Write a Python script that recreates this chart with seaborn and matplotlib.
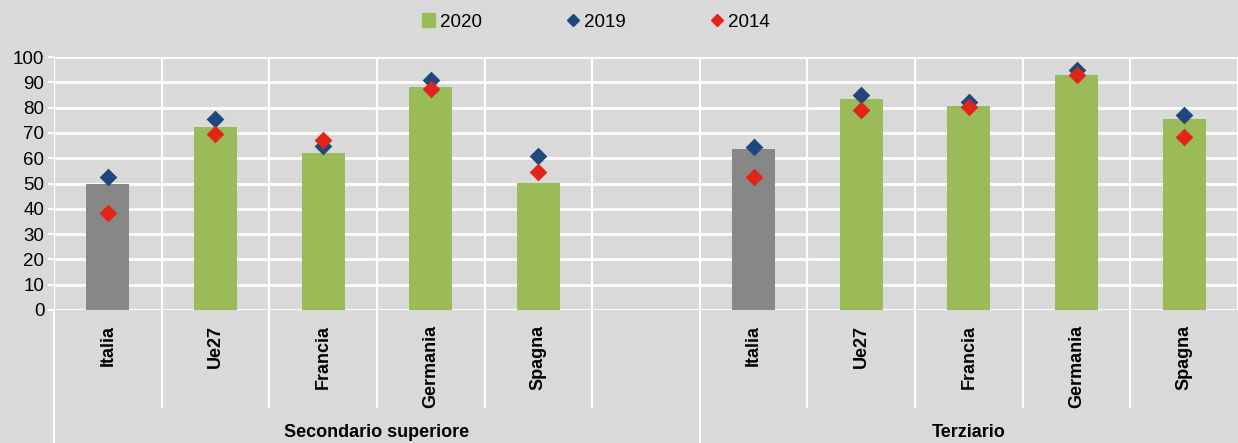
import numpy as np
import pandas as pd
import seaborn as sns
import matplotlib.pyplot as plt
from matplotlib.lines import Line2D
from matplotlib.patches import Patch

gruppi = ["Secondario superiore", "Terziario"]
paesi = ["Italia", "Ue27", "Francia", "Germania", "Spagna"]
# valori (%)
v2020_sec = [50.0, 72.2, 62.2, 88.0, 50.3]
v2019_sec = [52.7, 75.6, 64.8, 90.8, 61.0]
v2014_sec = [38.2, 69.5, 67.0, 87.4, 54.5]
v2020_ter = [63.8, 83.4, 80.8, 92.8, 75.6]
v2019_ter = [64.6, 84.8, 82.1, 94.7, 77.0]
v2014_ter = [52.6, 79.2, 80.2, 92.8, 68.4]

verde = "#9bbb59"
grigio = "#878787"
blu = "#1f497d"
rosso = "#e3241b"
sfondo = "#d9d9d9"

rows = []
for g, a, b, c in [(gruppi[0], v2020_sec, v2019_sec, v2014_sec),
                   (gruppi[1], v2020_ter, v2019_ter, v2014_ter)]:
    for p, x20, x19, x14 in zip(paesi, a, b, c):
        rows.append({"slot": g + "|" + p, "paese": p, "v2020": x20, "v2019": x19, "v2014": x14})
df = pd.DataFrame(rows)
keys1 = [gruppi[0] + "|" + p for p in paesi]
keys2 = [gruppi[1] + "|" + p for p in paesi]
order = keys1 + ["vuoto"] + keys2
pal = {k: (grigio if k.endswith("Italia") else verde) for k in df["slot"]}

plt.rcParams["font.family"] = ["Liberation Sans", "DejaVu Sans"]
fig = plt.figure(figsize=(12.38, 4.43), dpi=100, facecolor=sfondo)
ax = fig.add_axes([54 / 1238, 1 - 310 / 443, 1 - 54 / 1238, 253 / 443])
ax.set_facecolor(sfondo)

sns.barplot(data=df, x="slot", y="v2020", order=order, hue="slot", palette=pal,
            width=0.4, saturation=1, legend=False, ax=ax, zorder=2)
sns.stripplot(data=df, x="slot", y="v2019", order=order, jitter=False, marker="D",
              color=blu, size=9, linewidth=0, ax=ax, zorder=3)
sns.stripplot(data=df, x="slot", y="v2014", order=order, jitter=False, marker="D",
              color=rosso, size=9, linewidth=0, ax=ax, zorder=4)

ax.set_xlim(-0.5, 10.44)
ax.set_ylim(0, 100)
ax.set_yticks(range(0, 101, 10))
ax.set_xticks(range(11))
ax.set_xticklabels(paesi + [""] + paesi, rotation=90, fontweight="bold", fontsize=13)
ax.set_xticks(np.arange(-0.5, 11, 1), minor=True)
ax.tick_params(axis="x", which="both", length=0, pad=11)
ax.tick_params(axis="y", length=4, width=1.5, color="white", labelsize=13.5, pad=3)
ax.grid(axis="y", color="white", lw=2, zorder=0)
ax.grid(axis="x", which="minor", color="white", lw=1.5, zorder=0)
ax.grid(axis="x", which="major", visible=False)
ax.set_axisbelow(True)
for s in ax.spines.values():
    s.set_visible(False)
ax.set_xlabel("")
ax.set_ylabel("")

# separatori sotto l'asse
tr = ax.get_xaxis_transform()
for xb in [0.5, 1.5, 2.5, 3.5, 4.5, 6.5, 7.5, 8.5, 9.5]:
    ax.plot([xb, xb], [0, -0.383], transform=tr, color="white", lw=1.5, clip_on=False)
for xb in [-0.5, 5.5]:
    ax.plot([xb, xb], [0, -0.53], transform=tr, color="white", lw=1.5, clip_on=False)
ax.text(2.5, -0.486, gruppi[0], transform=tr, ha="center", va="center",
        fontsize=13, fontweight="bold")
ax.text(8.0, -0.486, gruppi[1], transform=tr, ha="center", va="center",
        fontsize=13, fontweight="bold")

handles = [Patch(color=verde),
           Line2D([], [], marker="D", ls="", color=blu, ms=6),
           Line2D([], [], marker="D", ls="", color=rosso, ms=6)]
fig.legend(handles, ["2020", "2019", "2014"], loc="center",
           bbox_to_anchor=(0.4814, 1 - 22 / 443), ncol=3, frameon=False,
           fontsize=13.5, handlelength=0.7, handleheight=0.7, handletextpad=0.25,
           columnspacing=4.5)

fig.savefig("out.png", dpi=100, facecolor=sfondo)
